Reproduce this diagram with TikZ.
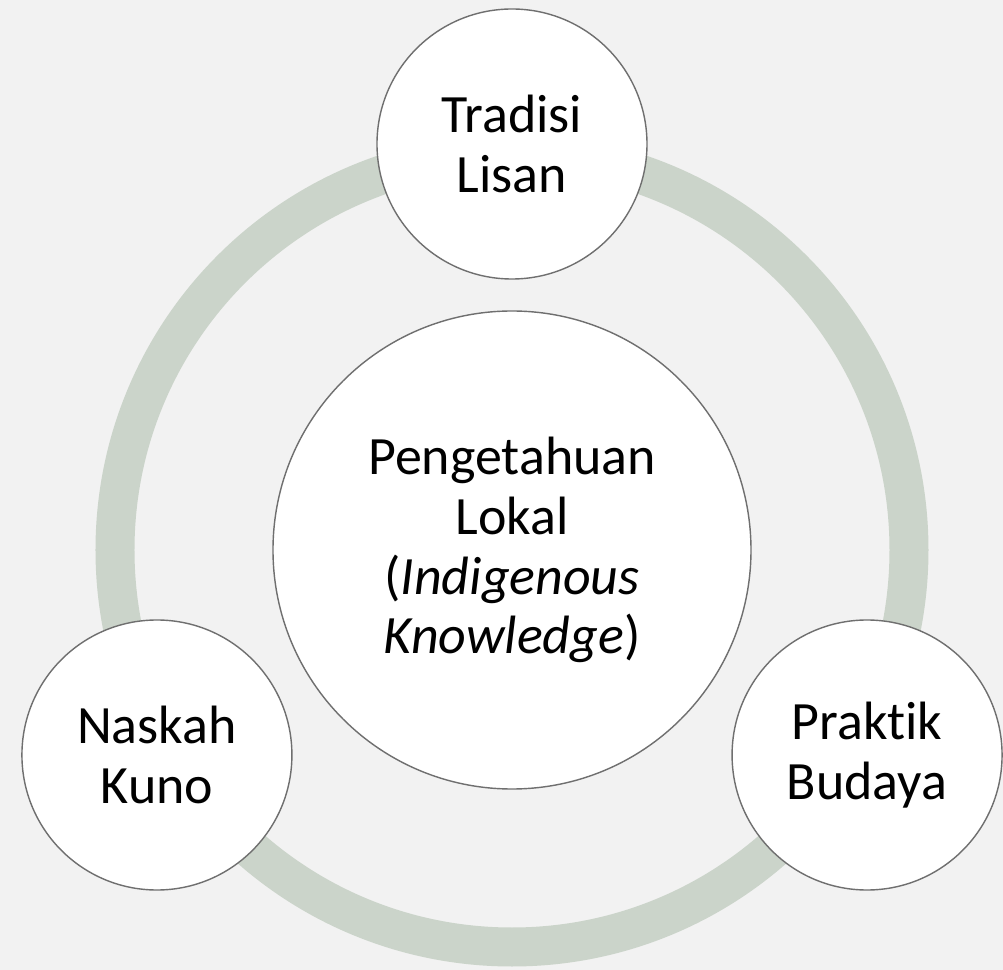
\documentclass[tikz,border=0pt]{standalone}
\usepackage{fontspec}
\setmainfont{Carlito}[Ligatures=NoCommon]
\usepackage{xcolor}
\usepackage{tikz}

\definecolor{latar}{HTML}{F2F2F2}
\definecolor{hijauabu}{HTML}{CBD4CA}
\definecolor{garis}{HTML}{6F6F6F}

\tikzset{
    inti/.style={circle, draw=garis, line width=0.8pt, fill=white, minimum size=9.56cm,
        align=center, font=\fontsize{30.7pt}{34.1pt}\selectfont},
    konsep/.style={circle, draw=garis, line width=0.8pt, fill=white, minimum size=5.4cm,
        align=center, font=\fontsize{30.7pt}{34.1pt}\selectfont},
    cincin/.style={draw=hijauabu, line width=0.78cm}
}

\begin{document}
\begin{tikzpicture}
    % latar belakang
    \fill[latar] (-10.24,-8.4) rectangle (9.82,11.0);

    % cincin penghubung
    \coordinate (tengah) at (0,0);
    \draw[cincin] (tengah) circle (7.94cm);

    % konsep utama
    \node[inti] (pusat) at (tengah) {Pengetahuan\\Lokal\\(\textit{Indigenous}\\\textit{Knowledge})};

    % sumber pengetahuan
    \node[konsep] (tradisi) at (90:8.12) {Tradisi\\Lisan};
    \node[konsep] (naskah) at (210:8.2) {Naskah\\Kuno};
    \node[konsep] (praktik) at (330:8.2) {Praktik\\Budaya};
\end{tikzpicture}
\end{document}
